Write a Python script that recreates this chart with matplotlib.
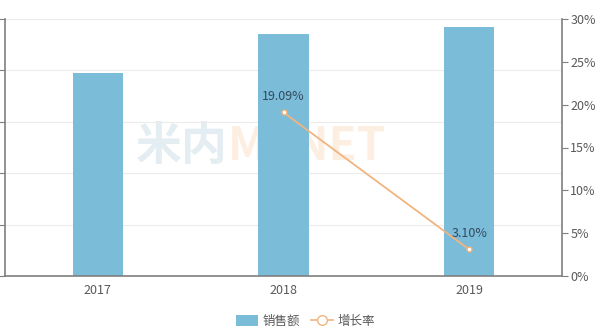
import matplotlib.pyplot as plt
import numpy as np
from matplotlib.lines import Line2D
from matplotlib.patches import Patch

plt.rcParams['font.family'] = ['Noto Sans CJK SC', 'DejaVu Sans']

years = ['2017', '2018', '2019']
sales = [197.5, 235.2, 242.5]          # 销售额 (left axis, labels hidden)
growth_years = ['2018', '2019']
growth = [19.09, 3.10]                 # 增长率 %

bar_color = '#7bbcd9'
line_color = '#f2b47e'
axis_color = '#7f7f7f'
text_color = '#595959'

fig = plt.figure(figsize=(6.11, 3.35), dpi=100)
ax = fig.add_axes([5 / 611, 59 / 335, 557 / 611, 257 / 335])
x = np.arange(len(years))

# faint watermark, behind the bars
ax.text(0.4, 0.5, '米内', transform=ax.transAxes, fontsize=33, fontweight='bold',
        color='#e3edf2', ha='right', va='center', zorder=1)
ax.text(0.4, 0.5, 'MENET', transform=ax.transAxes, fontsize=33, fontweight='bold',
        color='#fdeee2', ha='left', va='center', zorder=1)

ax.bar(x, sales, width=0.27, color=bar_color, zorder=2)
ax.set_xlim(-0.5, 2.5)
ax.set_ylim(0, 250)
ax.set_yticks(np.arange(0, 251, 50))
ax.set_yticklabels([])
ax.grid(axis='y', color='#ececec', linewidth=0.8, zorder=0)
ax.set_xticks(x)
ax.set_xticklabels(years, fontsize=9, color=text_color)
ax.tick_params(axis='x', length=0, pad=6)
ax.tick_params(axis='y', length=4, color=axis_color, direction='out')
ax.spines['top'].set_visible(False)
ax.spines['right'].set_visible(False)
for s in ['left', 'bottom']:
    ax.spines[s].set_color(axis_color)
    ax.spines[s].set_linewidth(1.2)

ax2 = ax.twinx()
gx = [years.index(y) for y in growth_years]
ax2.plot(gx, growth, color=line_color, linewidth=1.3, marker='o', markersize=3.5,
         markerfacecolor='white', markeredgecolor=line_color, zorder=3)
for xi, v in zip(gx, growth):
    ax2.annotate('%.2f%%' % v, (xi, v), xytext=(0, 7), textcoords='offset points',
                 ha='center', va='bottom', fontsize=9, color='#34495e')
ax2.set_ylim(0, 30)
ax2.set_yticks(np.arange(0, 31, 5))
ax2.set_yticklabels(['%d%%' % t for t in range(0, 31, 5)], fontsize=9, color=text_color)
ax2.tick_params(axis='y', length=4, color=axis_color, pad=2)
for s in ['top', 'left', 'bottom']:
    ax2.spines[s].set_visible(False)
ax2.spines['right'].set_color(axis_color)
ax2.spines['right'].set_linewidth(1.2)

handles = [Patch(facecolor=bar_color, edgecolor='none'),
           Line2D([0], [0], color=line_color, marker='o', markersize=7,
                  markerfacecolor='white', markeredgecolor=line_color, linewidth=1.2)]
fig.legend(handles, ['销售额', '增长率'], loc='center', bbox_to_anchor=(0.5, 0.04),
           ncol=2, frameon=False, fontsize=9, handlelength=1.8, handleheight=1.0,
           columnspacing=0.8, handletextpad=0.4, labelcolor=text_color)

fig.savefig('out.png', dpi=100)
